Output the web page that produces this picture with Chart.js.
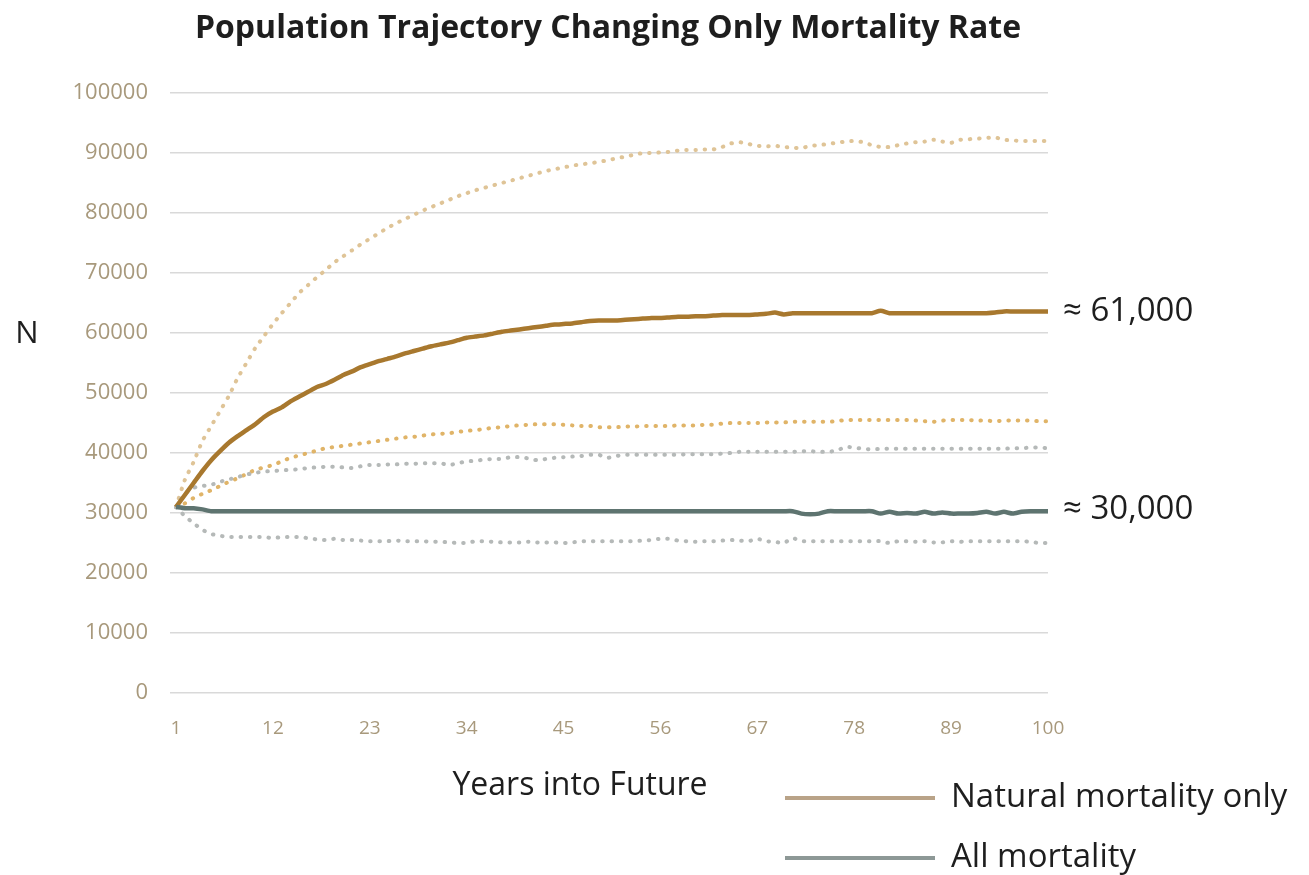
<!DOCTYPE html>
<html>
<head>
<meta charset="utf-8">
<script src="https://cdn.jsdelivr.net/npm/chart.js@4.4.1/dist/chart.umd.min.js"></script>
<style>
  html, body { margin: 0; padding: 0; background: #fff; }
  #wrap { width: 1309px; height: 875px; position: relative; }
</style>
</head>
<body>
<div id="wrap"><canvas id="myChart" width="1309" height="875"></canvas></div>
<script>
// years 1..100
const years = []
for (let i = 1; i <= 100; i++) years.push(i)

const yTicks = [0, 10000, 20000, 30000, 40000, 50000, 60000, 70000, 80000, 90000, 100000]
const xTickLabels = [1, 12, 23, 34, 45, 56, 67, 78, 89, 100]

// Natural mortality only (solid tan)
const naturalMean = [
  31000, 33000, 35000, 37000, 38800, 40300, 41700, 42800, 43800, 44800,
  46000, 46900, 47600, 48600, 49400, 50200, 51000, 51500, 52200, 53000,
  53600, 54300, 54800, 55300, 55700, 56100, 56600, 57000, 57400, 57800,
  58100, 58400, 58800, 59200, 59400, 59600, 59900, 60200, 60400, 60600,
  60800, 61000, 61200, 61400, 61500, 61600, 61800, 62000, 62100, 62100,
  62100, 62200, 62300, 62400, 62500, 62500, 62600, 62700, 62700, 62800,
  62800, 62900, 63000, 63000, 63000, 63000, 63100, 63200, 63400, 63100,
  63300, 63300, 63300, 63300, 63300, 63300, 63300, 63300, 63300, 63300,
  63700, 63300, 63300, 63300, 63300, 63300, 63300, 63300, 63300, 63300,
  63300, 63300, 63300, 63400, 63600, 63600, 63600, 63600, 63600, 63600
]
// Natural mortality upper bound (light tan dotted)
const naturalUpper = [
  31000, 35500, 38500, 42000, 44500, 47000, 49500, 52500, 55000, 57500,
  59500, 61500, 63300, 65000, 66700, 68000, 69300, 70500, 71800, 72800,
  73800, 74800, 75700, 76600, 77500, 78300, 79000, 79700, 80400, 81000,
  81600, 82200, 82800, 83300, 83800, 84200, 84600, 85000, 85400, 85800,
  86200, 86600, 87000, 87300, 87600, 87900, 88100, 88300, 88500, 88800,
  89100, 89400, 89700, 90000, 90000, 90100, 90200, 90400, 90500, 90500,
  90600, 90600, 91000, 91600, 91800, 91500, 91200, 91100, 91200, 91000,
  90900, 90800, 91200, 91300, 91500, 91700, 91900, 92000, 91800, 91300,
  91000, 91000, 91300, 91600, 91800, 91900, 92200, 91900, 91700, 92200,
  92300, 92400, 92500, 92600, 92200, 92100, 92000, 92000, 92000, 92000
]
// Natural mortality lower bound (tan dotted)
const naturalLower = [
  31000, 31600, 32500, 33200, 33800, 34500, 35200, 35800, 36500, 37200,
  37600, 38000, 38600, 39200, 39600, 40000, 40400, 40800, 41000, 41200,
  41400, 41600, 41800, 42000, 42200, 42400, 42600, 42700, 42900, 43100,
  43200, 43300, 43500, 43700, 43800, 44000, 44200, 44300, 44500, 44600,
  44700, 44800, 44800, 44800, 44700, 44600, 44500, 44500, 44300, 44300,
  44300, 44400, 44400, 44500, 44500, 44500, 44500, 44600, 44600, 44600,
  44700, 44700, 44900, 45000, 45000, 45000, 45000, 45100, 45100, 45100,
  45200, 45200, 45200, 45200, 45200, 45300, 45500, 45500, 45500, 45500,
  45500, 45500, 45500, 45500, 45400, 45300, 45200, 45400, 45500, 45500,
  45500, 45400, 45400, 45300, 45400, 45400, 45400, 45400, 45300, 45300
]
// All mortality (solid grey)
const allMean = [
  31000, 30800, 30800, 30600, 30300, 30300, 30300, 30300, 30300, 30300,
  30300, 30300, 30300, 30300, 30300, 30300, 30300, 30300, 30300, 30300,
  30300, 30300, 30300, 30300, 30300, 30300, 30300, 30300, 30300, 30300,
  30300, 30300, 30300, 30300, 30300, 30300, 30300, 30300, 30300, 30300,
  30300, 30300, 30300, 30300, 30300, 30300, 30300, 30300, 30300, 30300,
  30300, 30300, 30300, 30300, 30300, 30300, 30300, 30300, 30300, 30300,
  30300, 30300, 30300, 30300, 30300, 30300, 30300, 30300, 30300, 30300,
  30300, 29900, 29800, 29900, 30300, 30300, 30300, 30300, 30300, 30300,
  29900, 30200, 29900, 30000, 29900, 30200, 29900, 30100, 29900, 29900,
  29900, 30000, 30200, 29900, 30200, 29900, 30200, 30300, 30300, 30300
]
// All mortality upper bound (grey dotted)
const allUpper = [
  31000, 33200, 34200, 34500, 34700, 35200, 35600, 36000, 36400, 36700,
  36900, 37000, 37100, 37200, 37300, 37500, 37600, 37700, 37700, 37600,
  37500, 37800, 38000, 38000, 38100, 38100, 38200, 38200, 38300, 38300,
  38300, 38000, 38300, 38600, 38700, 38900, 39000, 39000, 39300, 39300,
  39100, 38800, 39000, 39200, 39300, 39400, 39500, 39700, 39700, 39200,
  39500, 39700, 39700, 39700, 39700, 39700, 39700, 39700, 39800, 39800,
  39800, 39800, 39900, 40000, 40200, 40200, 40200, 40200, 40200, 40200,
  40200, 40300, 40300, 40200, 40200, 40400, 41000, 40900, 40700, 40600,
  40700, 40700, 40700, 40700, 40700, 40700, 40700, 40700, 40700, 40700,
  40700, 40700, 40700, 40700, 40700, 40800, 40800, 40900, 40900, 40800
]
// All mortality lower bound (grey dotted)
const allLower = [
  31000, 29500, 28300, 27200, 26500, 26200, 26000, 26000, 26000, 26000,
  26000, 25800, 26000, 26000, 26000, 25800, 25600, 25500, 25700, 25500,
  25500, 25400, 25300, 25300, 25300, 25400, 25300, 25300, 25300, 25200,
  25200, 25100, 25000, 25000, 25300, 25300, 25200, 25100, 25100, 25100,
  25200, 25100, 25100, 25100, 25000, 25100, 25300, 25300, 25300, 25300,
  25300, 25300, 25300, 25400, 25500, 25700, 25700, 25400, 25300, 25200,
  25300, 25300, 25400, 25500, 25400, 25300, 25700, 25300, 25200, 25000,
  25800, 25300, 25300, 25300, 25300, 25300, 25300, 25300, 25300, 25300,
  25300, 25000, 25300, 25300, 25200, 25300, 25100, 25100, 25300, 25200,
  25300, 25300, 25300, 25300, 25300, 25300, 25300, 25200, 25000, 25000
]

const annotations = [
  { text: '\u2248 61,000', y: 312 },
  { text: '\u2248 30,000', y: 510 }
]
const legendItems = [
  { text: 'Natural mortality only', color: '#b9a388' },
  { text: 'All mortality', color: '#8d9896' }
]

const tickColor = '#a8997c'

// texts around the chart: title, axis titles, value notes, legend
const extraText = {
  id: 'extraText',
  afterDraw(chart) {
    const ctx = chart.ctx
    ctx.save()
    ctx.fillStyle = '#1e1e1e'
    ctx.textBaseline = 'middle'

    ctx.font = 'bold 32px "Open Sans"'
    ctx.textAlign = 'center'
    ctx.fillText('Population Trajectory Changing Only Mortality Rate', 608, 29)

    ctx.font = '31px "Open Sans"'
    ctx.fillText('N', 27, 334)
    ctx.font = '32px "Open Sans"'
    ctx.fillText('Years into Future', 580, 786)

    ctx.textAlign = 'left'
    ctx.font = '33px "Open Sans"'
    annotations.forEach(function (a) {
      ctx.fillText(a.text, 1063, a.y)
    })

    ctx.font = '33px "Open Sans"'
    legendItems.forEach(function (item, i) {
      const y = 798 + i * 60
      ctx.strokeStyle = item.color
      ctx.lineWidth = 4
      ctx.beginPath()
      ctx.moveTo(785, y)
      ctx.lineTo(935, y)
      ctx.stroke()
      ctx.fillText(item.text, 951, y)
    })
    ctx.restore()
  }
}

function solid(data, color) {
  return {
    data: data, borderColor: color, borderWidth: 4.5,
    pointRadius: 0, tension: 0.2, fill: false
  }
}
function dotted(data, color) {
  return {
    data: data, borderColor: color, borderWidth: 4, borderCapStyle: 'round',
    borderDash: [0.5, 8.8], pointRadius: 0, tension: 0.2, fill: false
  }
}

const ctx = document.getElementById('myChart').getContext('2d')
const myChart = new Chart(ctx, {
  type: 'line',
  data: {
    labels: years,
    datasets: [
      solid(allMean, '#5e7470'),
      solid(naturalMean, '#a8782e'),
      dotted(allUpper, '#b5b9b8'),
      dotted(allLower, '#b5b9b8'),
      dotted(naturalLower, '#e0b468'),
      dotted(naturalUpper, '#dfc497')
    ]
  },
  options: {
    responsive: false,
    animation: false,
    layout: { padding: { top: 93, right: 261, left: 0, bottom: 0 } },
    plugins: { legend: { display: false }, tooltip: { enabled: false }, title: { display: false } },
    scales: {
      x: {
        type: 'category',
        offset: false,
        grid: { display: false, drawTicks: false },
        border: { display: false },
        afterFit: function (scale) { scale.height = 182 },
        ticks: {
          autoSkip: false, maxRotation: 0, padding: 24,
          color: tickColor, font: { family: 'Open Sans', size: 19 },
          callback: function (val, i) {
            const lab = years[i]
            return xTickLabels.includes(lab) ? String(lab) : null
          }
        }
      },
      y: {
        min: 0, max: 100000,
        afterBuildTicks: function (scale) {
          scale.ticks = yTicks.map(function (v) { return { value: v } })
        },
        afterFit: function (scale) { scale.width = 176 },
        grid: { color: '#d9d9d9', lineWidth: 1.5, tickLength: 6, tickColor: '#d9d9d9' },
        border: { display: false },
        ticks: {
          padding: 22, color: tickColor,
          font: { family: 'Open Sans', size: 22 },
          callback: function (v) { return String(v) }
        }
      }
    }
  },
  plugins: [extraText]
})
</script>
</body>
</html>
